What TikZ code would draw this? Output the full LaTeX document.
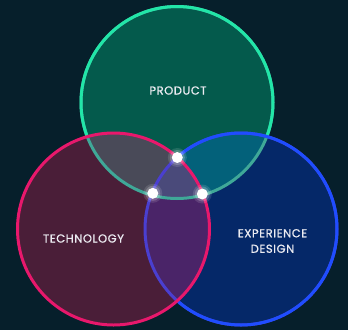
\documentclass[tikz,border=0pt]{standalone}
\usepackage{fontspec}
\setmainfont{Poppins}[LetterSpace=5, FakeBold=0.9]
\definecolor{bg}{HTML}{061F2B}
\definecolor{gfill}{HTML}{045A4C}
\definecolor{pfill}{HTML}{4A1E38}
\definecolor{bfill}{HTML}{052868}
\definecolor{gpfill}{HTML}{494A58}
\definecolor{gbfill}{HTML}{03617A}
\definecolor{pbfill}{HTML}{4A2468}
\definecolor{allfill}{HTML}{4A4A7A}
\definecolor{gline}{HTML}{22E6A8}
\definecolor{glinemute}{HTML}{3FA898}
\definecolor{bline}{HTML}{1F4DFF}
\definecolor{blinemute}{HTML}{4A3FD0}
\definecolor{pline}{HTML}{E8186C}
\definecolor{txt}{HTML}{ECECF2}
\tikzset{
  label/.style={text=txt, font=\fontsize{11.5}{15.5}\selectfont, align=center, inner sep=0pt},
  ring/.style={line width=3pt},
  dot/.style={circle, fill=white, inner sep=0pt, minimum size=11pt},
  halo/.style={circle, fill=white, inner sep=0pt, opacity=0.12},
}
\begin{document}
\begin{tikzpicture}[x=1pt,y=-1pt]
\fill[bg] (0,0) rectangle (348,330);
\useasboundingbox (0,0) rectangle (348,330);
\coordinate (G) at (177,102.5);
\coordinate (P) at (113.5,229);
\coordinate (B) at (241,229);
\def\R{96pt}
% base fills
\fill[gfill] (G) circle[radius=\R];
\fill[pfill] (P) circle[radius=\R];
\fill[bfill] (B) circle[radius=\R];
\begin{scope}
  \clip (G) circle[radius=\R];
  \fill[gpfill] (P) circle[radius=\R];
  \fill[gbfill] (B) circle[radius=\R];
\end{scope}
\begin{scope}
  \clip (P) circle[radius=\R];
  \fill[pbfill] (B) circle[radius=\R];
  \clip (G) circle[radius=\R];
  \fill[allfill] (B) circle[radius=\R];
\end{scope}
% green ring: muted inside others, bright outside
\draw[ring, glinemute] (G) circle[radius=\R];
\begin{scope}[even odd rule]
  \clip (-10,-10) rectangle (360,340) (P) circle[radius=\R];
  \clip (-10,-10) rectangle (360,340) (B) circle[radius=\R];
  \draw[ring, gline] (G) circle[radius=\R];
\end{scope}
% blue ring: muted inside pink
\draw[ring, blinemute] (B) circle[radius=\R];
\begin{scope}[even odd rule]
  \clip (-10,-10) rectangle (360,340) (P) circle[radius=\R];
  \draw[ring, bline] (B) circle[radius=\R];
\end{scope}
% pink ring
\draw[ring, pline] (P) circle[radius=\R];
% labels
\node[label] (product) at (178,90.5) {PRODUCT};
\node[label] (technology) at (83.5,238.5) {TECHNOLOGY};
\node[label] (experience) at (272.5,241) {EXPERIENCE\\DESIGN};
% intersection dots with glow
\coordinate (tpb) at (177.3,157.5);
\coordinate (lgb) at (152.8,193.3);
\coordinate (rgp) at (202.3,194);
\foreach \c in {tpb,lgb,rgp}{
  \node[halo, minimum size=19pt] at (\c) {};
  \node[halo, minimum size=15pt, opacity=0.2] at (\c) {};
}
\node[dot] (dtop) at (tpb) {};
\node[dot] (dleft) at (lgb) {};
\node[dot] (dright) at (rgp) {};
\end{tikzpicture}
\end{document}
